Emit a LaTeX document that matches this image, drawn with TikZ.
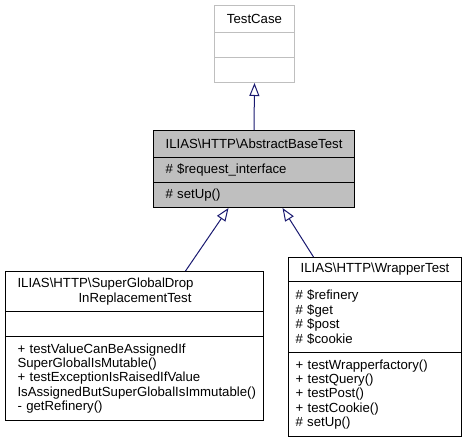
\documentclass[tikz,border=0pt]{standalone}
\usepackage{fontspec}
\setmainfont{Liberation Sans}
\usetikzlibrary{arrows.meta}
\definecolor{edgeblue}{HTML}{191970}
\definecolor{boxgray}{HTML}{BFBFBF}
\newcommand{\classfont}{\fontsize{13.2bp}{14.4bp}\selectfont}
\tikzset{
  part/.style={draw,rectangle,anchor=north west,inner ysep=0pt,
    line width=1bp,font=\classfont,align=left},
  titlepart/.style={part,align=center},
  graypart/.style={titlepart,draw=boxgray},
  inherit/.style={draw=edgeblue,line width=1bp,
    -{Triangle[open,length=13bp,width=10bp]}}}

\begin{document}
\begin{tikzpicture}[x=1bp,y=-1bp]
  \useasboundingbox (0,0) rectangle (467,441);
  % base class
  \node [graypart,minimum width=80bp,minimum height=27bp] (testcase) at (214,5) {TestCase};
  \node [graypart,minimum width=80bp,minimum height=25bp] (testcase-attr) at (214,32) {};
  \node [graypart,minimum width=80bp,minimum height=25bp] (testcase-ops) at (214,57) {};
  % abstract test
  \node [titlepart,fill=boxgray,minimum width=201bp,minimum height=27bp] (abstract) at (153,130)
    {ILIAS\textbackslash HTTP\textbackslash AbstractBaseTest};
  \node [part,fill=boxgray,inner xsep=12bp,text width=177bp,minimum height=25bp] (abstract-attr) at (153,157)
    {\# \$request\_interface};
  \node [part,fill=boxgray,inner xsep=12bp,text width=177bp,minimum height=25bp] (abstract-ops) at (153,182)
    {\# setUp()};
  % derived tests
  \node [part,inner xsep=12bp,text width=234bp,minimum height=40bp] (superglobal) at (5,271)
    {ILIAS\textbackslash HTTP\textbackslash SuperGlobalDrop\\\hspace*{61bp}InReplacementTest};
  \node [part,minimum width=258bp,minimum height=25bp] (superglobal-attr) at (5,311) {};
  \node [part,inner xsep=12bp,text width=234bp,minimum height=84bp] (superglobal-ops) at (5,336)
    {+ testValueCanBeAssignedIf\\SuperGlobalIsMutable()\\+ testExceptionIsRaisedIfValue\\
     IsAssignedButSuperGlobalIsImmutable()\\- getRefinery()};
  \node [titlepart,minimum width=173bp,minimum height=24bp] (wrapper) at (288,257)
    {ILIAS\textbackslash HTTP\textbackslash WrapperTest};
  \node [part,inner xsep=7bp,text width=159bp,minimum height=71bp] (wrapper-attr) at (288,281)
    {\# \$refinery\\\# \$get\\\# \$post\\\# \$cookie};
  \node [part,inner xsep=7bp,text width=159bp,minimum height=84bp] (wrapper-ops) at (288,352)
    {+ testWrapperfactory()\\+ testQuery()\\+ testPost()\\+ testCookie()\\\# setUp()};
  % inheritance
  \draw [inherit] (abstract.north) -- (testcase-ops.south);
  \draw [inherit] ([xshift=51bp]superglobal.north) -- ([xshift=-25.5bp]abstract-ops.south);
  \draw [inherit] ([xshift=-61.5bp]wrapper.north) -- ([xshift=28.5bp]abstract-ops.south);
\end{tikzpicture}
\end{document}
